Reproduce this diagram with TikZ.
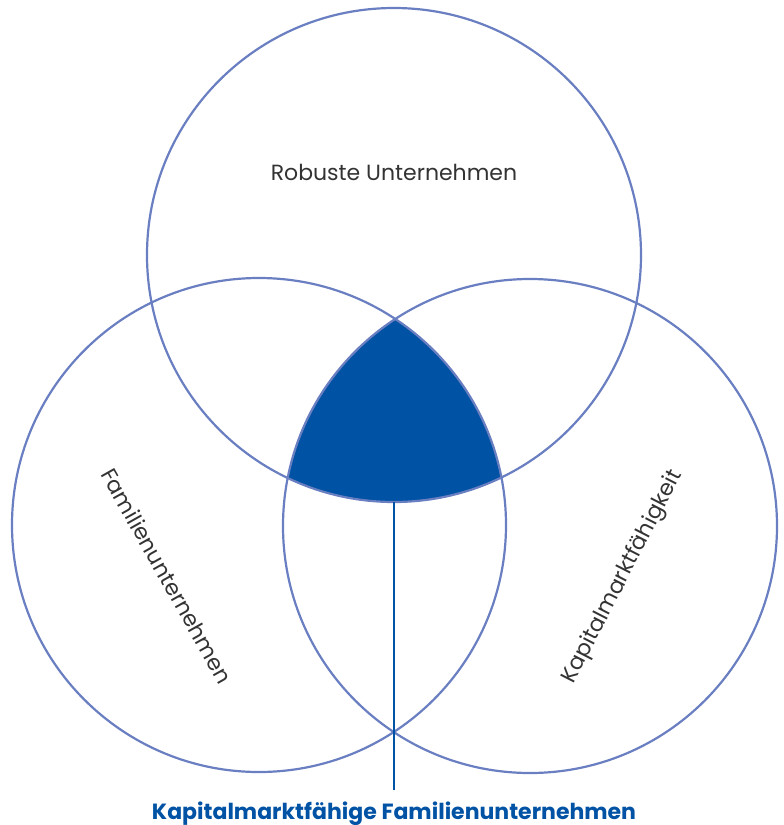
\documentclass[tikz,border=0pt]{standalone}
\usepackage{fontspec}
\setmainfont{Poppins}
\definecolor{ring}{HTML}{6A7FC1}
\definecolor{deep}{HTML}{0052A4}
\definecolor{txt}{HTML}{333333}
\begin{document}
\begin{tikzpicture}[x=1pt,y=-1pt,
  ring/.style={draw=ring,line width=2.2pt},
  lbl/.style={text=txt,font=\fontsize{22}{26}\selectfont},
  title/.style={text=deep,font=\fontsize{22}{26}\selectfont\bfseries}]
\useasboundingbox (0,0) rectangle (784,825);
\coordinate (T) at (394,255);
\coordinate (L) at (259,525);
\coordinate (R) at (530,526);
\begin{scope}
  \clip (L) circle (247);
  \clip (R) circle (247);
  \fill[deep] (T) circle (247);
\end{scope}
\draw[ring] (T) circle (247);
\draw[ring] (L) circle (247);
\draw[ring] (R) circle (247);
\coordinate (top) at (394,502);
\node[title,anchor=base,inner sep=0pt] (cap) at (394,819) {Kapitalmarktfähige Familienunternehmen};
\coordinate (lineend) at (394,790);
\draw[deep,line width=2.4pt] (top) -- (lineend);
\node[lbl] (robust) at (394,172) {Robuste Unternehmen};
\node[lbl,rotate=-60.6] (fam) at (167,576) {Familienunternehmen};
\node[lbl,rotate=62.8] (kap) at (623,577) {Kapitalmarktfähigkeit};
\end{tikzpicture}
\end{document}
